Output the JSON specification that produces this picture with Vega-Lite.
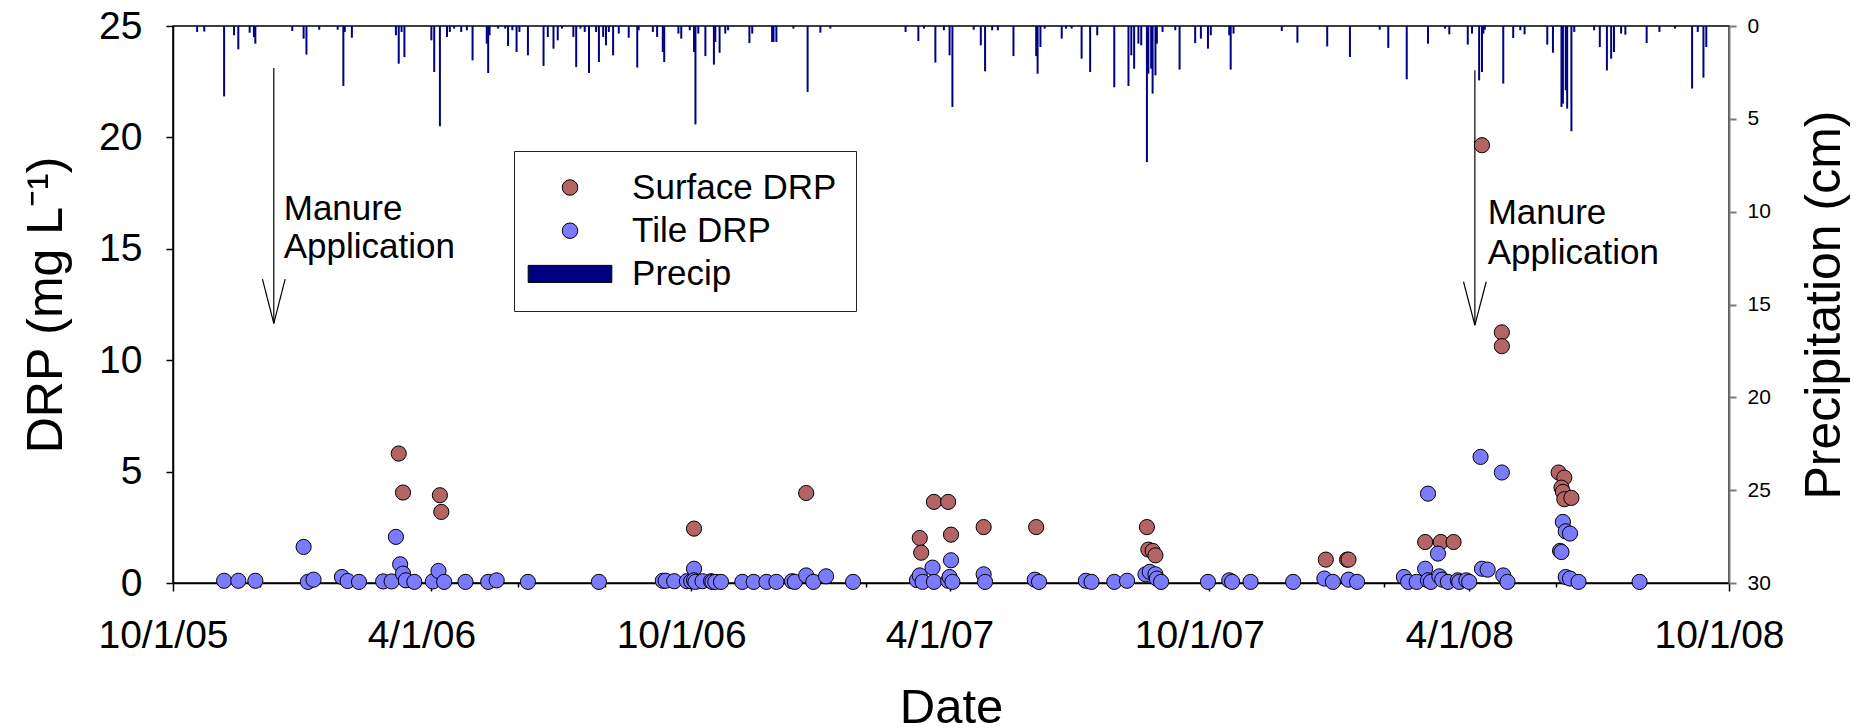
{
  "$schema": "https://vega.github.io/schema/vega-lite/v6.json",
  "width": 1556,
  "height": 557,
  "autosize": {"type": "none"},
  "padding": {"left": 173, "top": 26, "right": 130, "bottom": 145},
  "background": "white",
  "config": {
    "font": "Liberation Sans",
    "view": {"stroke": "black", "strokeWidth": 1.5},
    "axis": {"grid": false, "labelFont": "Liberation Sans", "titleFont": "Liberation Sans", "titleFontWeight": "normal", "labelColor": "black", "titleColor": "black"},
    "legend": {
      "orient": "none", "legendX": 341, "legendY": 125, "padding": 19,
      "symbolOffset": 19.5, "labelOffset": 44.6, "rowPadding": 7.2,
      "labelFontSize": 35, "labelFont": "Liberation Sans", "labelColor": "black", "labelLimit": 400,
      "symbolSize": 230, "symbolStrokeColor": "black", "symbolStrokeWidth": 1, "symbolOpacity": 1,
      "strokeColor": "#222222", "strokeWidth": 1
    }
  },
  "datasets": {
    "precip": [
      {"date": "2005-10-18", "precip": 0.32}, {"date": "2005-10-23", "precip": 0.3}, {"date": "2005-11-06", "precip": 3.79},
      {"date": "2005-11-13", "precip": 0.5}, {"date": "2005-11-16", "precip": 1.26}, {"date": "2005-11-24", "precip": 0.36},
      {"date": "2005-11-27", "precip": 0.6}, {"date": "2005-11-28", "precip": 0.95}, {"date": "2005-12-24", "precip": 0.27},
      {"date": "2006-01-01", "precip": 0.68}, {"date": "2006-01-03", "precip": 1.54}, {"date": "2006-01-12", "precip": 0.2},
      {"date": "2006-01-25", "precip": 0.2}, {"date": "2006-01-29", "precip": 3.23}, {"date": "2006-01-30", "precip": 0.32},
      {"date": "2006-02-04", "precip": 0.63}, {"date": "2006-03-07", "precip": 0.5}, {"date": "2006-03-09", "precip": 2.03},
      {"date": "2006-03-11", "precip": 0.32}, {"date": "2006-03-13", "precip": 1.67}, {"date": "2006-04-01", "precip": 0.77},
      {"date": "2006-04-03", "precip": 2.48}, {"date": "2006-04-07", "precip": 5.4}, {"date": "2006-04-12", "precip": 0.59},
      {"date": "2006-04-14", "precip": 0.32}, {"date": "2006-04-17", "precip": 0.14}, {"date": "2006-04-22", "precip": 0.32},
      {"date": "2006-04-26", "precip": 0.23}, {"date": "2006-04-30", "precip": 1.85}, {"date": "2006-05-10", "precip": 0.95},
      {"date": "2006-05-11", "precip": 2.53}, {"date": "2006-05-12", "precip": 0.5}, {"date": "2006-05-18", "precip": 0.14},
      {"date": "2006-05-23", "precip": 0.14}, {"date": "2006-05-25", "precip": 1.08}, {"date": "2006-05-28", "precip": 0.23},
      {"date": "2006-05-31", "precip": 1.4}, {"date": "2006-06-02", "precip": 0.32}, {"date": "2006-06-08", "precip": 1.58},
      {"date": "2006-06-19", "precip": 2.15}, {"date": "2006-06-22", "precip": 0.59}, {"date": "2006-06-26", "precip": 1.22},
      {"date": "2006-06-29", "precip": 0.77}, {"date": "2006-07-02", "precip": 0.14}, {"date": "2006-07-10", "precip": 0.59},
      {"date": "2006-07-12", "precip": 2.21}, {"date": "2006-07-15", "precip": 0.14}, {"date": "2006-07-18", "precip": 0.32},
      {"date": "2006-07-21", "precip": 2.53}, {"date": "2006-07-26", "precip": 0.32}, {"date": "2006-07-28", "precip": 1.94},
      {"date": "2006-07-31", "precip": 0.59}, {"date": "2006-08-02", "precip": 1.04}, {"date": "2006-08-04", "precip": 0.32},
      {"date": "2006-08-07", "precip": 1.58}, {"date": "2006-08-11", "precip": 0.41}, {"date": "2006-08-18", "precip": 0.63},
      {"date": "2006-08-24", "precip": 2.24}, {"date": "2006-08-25", "precip": 0.23}, {"date": "2006-09-04", "precip": 0.32},
      {"date": "2006-09-07", "precip": 0.59}, {"date": "2006-09-11", "precip": 1.4}, {"date": "2006-09-12", "precip": 1.94},
      {"date": "2006-09-22", "precip": 0.41}, {"date": "2006-09-24", "precip": 0.68}, {"date": "2006-09-30", "precip": 0.23},
      {"date": "2006-10-03", "precip": 1.4}, {"date": "2006-10-04", "precip": 5.3}, {"date": "2006-10-06", "precip": 0.41},
      {"date": "2006-10-11", "precip": 1.62}, {"date": "2006-10-17", "precip": 2.08}, {"date": "2006-10-18", "precip": 0.86},
      {"date": "2006-10-21", "precip": 1.44}, {"date": "2006-10-25", "precip": 0.41}, {"date": "2006-10-27", "precip": 0.23},
      {"date": "2006-11-11", "precip": 0.92}, {"date": "2006-11-13", "precip": 0.41}, {"date": "2006-11-27", "precip": 0.86},
      {"date": "2006-11-28", "precip": 0.86}, {"date": "2006-11-30", "precip": 0.86}, {"date": "2006-12-12", "precip": 0.14},
      {"date": "2006-12-22", "precip": 3.55}, {"date": "2006-12-31", "precip": 0.36}, {"date": "2007-01-07", "precip": 0.14},
      {"date": "2007-03-01", "precip": 0.32}, {"date": "2007-03-10", "precip": 0.81}, {"date": "2007-03-14", "precip": 0.14},
      {"date": "2007-03-22", "precip": 1.97}, {"date": "2007-03-28", "precip": 0.23}, {"date": "2007-04-01", "precip": 1.58},
      {"date": "2007-04-03", "precip": 4.36}, {"date": "2007-04-18", "precip": 0.2}, {"date": "2007-04-23", "precip": 1.04},
      {"date": "2007-04-26", "precip": 2.44}, {"date": "2007-05-01", "precip": 0.23}, {"date": "2007-05-05", "precip": 0.23},
      {"date": "2007-05-16", "precip": 1.62}, {"date": "2007-06-01", "precip": 1.62}, {"date": "2007-06-02", "precip": 2.57},
      {"date": "2007-06-04", "precip": 1.13}, {"date": "2007-06-07", "precip": 0.14}, {"date": "2007-06-19", "precip": 0.68},
      {"date": "2007-06-22", "precip": 0.14}, {"date": "2007-06-26", "precip": 0.14}, {"date": "2007-07-03", "precip": 1.76},
      {"date": "2007-07-09", "precip": 2.48}, {"date": "2007-07-14", "precip": 0.5}, {"date": "2007-07-26", "precip": 3.3},
      {"date": "2007-08-05", "precip": 3.23}, {"date": "2007-08-07", "precip": 1.58}, {"date": "2007-08-09", "precip": 2.3},
      {"date": "2007-08-12", "precip": 0.95}, {"date": "2007-08-14", "precip": 1.04}, {"date": "2007-08-18", "precip": 7.33},
      {"date": "2007-08-19", "precip": 2.57}, {"date": "2007-08-21", "precip": 2.3}, {"date": "2007-08-22", "precip": 3.64},
      {"date": "2007-08-24", "precip": 2.66}, {"date": "2007-08-25", "precip": 0.95}, {"date": "2007-08-29", "precip": 0.32},
      {"date": "2007-09-07", "precip": 0.23}, {"date": "2007-09-10", "precip": 2.35}, {"date": "2007-09-21", "precip": 0.92},
      {"date": "2007-09-25", "precip": 0.68}, {"date": "2007-09-30", "precip": 1.22}, {"date": "2007-10-02", "precip": 0.5},
      {"date": "2007-10-15", "precip": 0.5}, {"date": "2007-10-16", "precip": 2.35}, {"date": "2007-10-18", "precip": 0.41},
      {"date": "2007-11-21", "precip": 0.27}, {"date": "2007-12-02", "precip": 0.9}, {"date": "2007-12-23", "precip": 1.1},
      {"date": "2008-01-08", "precip": 1.67}, {"date": "2008-01-29", "precip": 0.2}, {"date": "2008-02-04", "precip": 1.18},
      {"date": "2008-02-17", "precip": 2.87}, {"date": "2008-03-03", "precip": 0.95}, {"date": "2008-03-15", "precip": 0.14},
      {"date": "2008-03-18", "precip": 0.45}, {"date": "2008-03-31", "precip": 1.0}, {"date": "2008-04-03", "precip": 0.41},
      {"date": "2008-04-08", "precip": 2.93}, {"date": "2008-04-10", "precip": 2.48}, {"date": "2008-04-11", "precip": 0.41},
      {"date": "2008-04-12", "precip": 0.2}, {"date": "2008-04-25", "precip": 3.1}, {"date": "2008-05-02", "precip": 0.65},
      {"date": "2008-05-07", "precip": 0.23}, {"date": "2008-05-10", "precip": 0.45}, {"date": "2008-05-26", "precip": 1.0},
      {"date": "2008-05-30", "precip": 1.44}, {"date": "2008-06-05", "precip": 4.36}, {"date": "2008-06-06", "precip": 4.18},
      {"date": "2008-06-08", "precip": 3.46}, {"date": "2008-06-09", "precip": 4.45}, {"date": "2008-06-12", "precip": 5.67},
      {"date": "2008-06-14", "precip": 0.32}, {"date": "2008-06-28", "precip": 0.23}, {"date": "2008-07-02", "precip": 1.13},
      {"date": "2008-07-07", "precip": 2.39}, {"date": "2008-07-10", "precip": 1.76}, {"date": "2008-07-12", "precip": 1.4},
      {"date": "2008-07-17", "precip": 0.41}, {"date": "2008-07-20", "precip": 0.47}, {"date": "2008-08-04", "precip": 0.92},
      {"date": "2008-08-13", "precip": 0.32}, {"date": "2008-08-24", "precip": 0.14}, {"date": "2008-09-05", "precip": 3.37},
      {"date": "2008-09-09", "precip": 0.32}, {"date": "2008-09-13", "precip": 2.78}, {"date": "2008-09-15", "precip": 1.13}
    ],
    "drp": [
      {"date": "2006-03-09", "drp": 5.81, "series": "Surface DRP"}, {"date": "2006-03-12", "drp": 4.06, "series": "Surface DRP"},
      {"date": "2006-04-07", "drp": 3.94, "series": "Surface DRP"}, {"date": "2006-04-08", "drp": 3.19, "series": "Surface DRP"},
      {"date": "2006-10-03", "drp": 2.44, "series": "Surface DRP"}, {"date": "2006-12-21", "drp": 4.04, "series": "Surface DRP"},
      {"date": "2007-03-11", "drp": 2.02, "series": "Surface DRP"}, {"date": "2007-03-12", "drp": 1.36, "series": "Surface DRP"},
      {"date": "2007-03-21", "drp": 3.64, "series": "Surface DRP"}, {"date": "2007-03-31", "drp": 3.64, "series": "Surface DRP"},
      {"date": "2007-04-02", "drp": 2.17, "series": "Surface DRP"}, {"date": "2007-04-25", "drp": 2.51, "series": "Surface DRP"},
      {"date": "2007-06-01", "drp": 2.51, "series": "Surface DRP"}, {"date": "2007-08-18", "drp": 2.51, "series": "Surface DRP"},
      {"date": "2007-08-19", "drp": 1.5, "series": "Surface DRP"}, {"date": "2007-08-22", "drp": 1.44, "series": "Surface DRP"},
      {"date": "2007-08-24", "drp": 1.24, "series": "Surface DRP"}, {"date": "2007-12-22", "drp": 1.05, "series": "Surface DRP"},
      {"date": "2008-01-06", "drp": 1.05, "series": "Surface DRP"}, {"date": "2008-01-07", "drp": 1.05, "series": "Surface DRP"},
      {"date": "2008-03-01", "drp": 1.84, "series": "Surface DRP"}, {"date": "2008-03-12", "drp": 1.84, "series": "Surface DRP"},
      {"date": "2008-03-21", "drp": 1.84, "series": "Surface DRP"}, {"date": "2008-04-10", "drp": 19.65, "series": "Surface DRP"},
      {"date": "2008-04-24", "drp": 11.25, "series": "Surface DRP"}, {"date": "2008-04-24", "drp": 10.63, "series": "Surface DRP"},
      {"date": "2008-06-03", "drp": 4.96, "series": "Surface DRP"}, {"date": "2008-06-07", "drp": 4.73, "series": "Surface DRP"},
      {"date": "2008-06-05", "drp": 4.28, "series": "Surface DRP"}, {"date": "2008-06-06", "drp": 4.09, "series": "Surface DRP"},
      {"date": "2008-06-07", "drp": 3.76, "series": "Surface DRP"}, {"date": "2008-06-12", "drp": 3.82, "series": "Surface DRP"},
      {"date": "2005-11-06", "drp": 0.1, "series": "Tile DRP"}, {"date": "2005-11-16", "drp": 0.1, "series": "Tile DRP"},
      {"date": "2005-11-28", "drp": 0.1, "series": "Tile DRP"}, {"date": "2006-01-01", "drp": 1.62, "series": "Tile DRP"},
      {"date": "2006-01-04", "drp": 0.05, "series": "Tile DRP"}, {"date": "2006-01-08", "drp": 0.15, "series": "Tile DRP"},
      {"date": "2006-01-28", "drp": 0.27, "series": "Tile DRP"}, {"date": "2006-02-01", "drp": 0.09, "series": "Tile DRP"},
      {"date": "2006-02-09", "drp": 0.05, "series": "Tile DRP"}, {"date": "2006-02-26", "drp": 0.07, "series": "Tile DRP"},
      {"date": "2006-03-04", "drp": 0.07, "series": "Tile DRP"}, {"date": "2006-03-07", "drp": 2.07, "series": "Tile DRP"},
      {"date": "2006-03-10", "drp": 0.84, "series": "Tile DRP"}, {"date": "2006-03-12", "drp": 0.42, "series": "Tile DRP"},
      {"date": "2006-03-14", "drp": 0.12, "series": "Tile DRP"}, {"date": "2006-03-20", "drp": 0.05, "series": "Tile DRP"},
      {"date": "2006-04-02", "drp": 0.07, "series": "Tile DRP"}, {"date": "2006-04-06", "drp": 0.54, "series": "Tile DRP"},
      {"date": "2006-04-10", "drp": 0.05, "series": "Tile DRP"}, {"date": "2006-04-25", "drp": 0.05, "series": "Tile DRP"},
      {"date": "2006-05-11", "drp": 0.05, "series": "Tile DRP"}, {"date": "2006-05-17", "drp": 0.12, "series": "Tile DRP"},
      {"date": "2006-06-08", "drp": 0.05, "series": "Tile DRP"}, {"date": "2006-07-28", "drp": 0.05, "series": "Tile DRP"},
      {"date": "2006-09-11", "drp": 0.1, "series": "Tile DRP"}, {"date": "2006-09-13", "drp": 0.1, "series": "Tile DRP"},
      {"date": "2006-09-19", "drp": 0.08, "series": "Tile DRP"}, {"date": "2006-09-28", "drp": 0.08, "series": "Tile DRP"},
      {"date": "2006-10-01", "drp": 0.08, "series": "Tile DRP"}, {"date": "2006-10-03", "drp": 0.64, "series": "Tile DRP"},
      {"date": "2006-10-03", "drp": 0.12, "series": "Tile DRP"}, {"date": "2006-10-04", "drp": 0.05, "series": "Tile DRP"},
      {"date": "2006-10-09", "drp": 0.08, "series": "Tile DRP"}, {"date": "2006-10-15", "drp": 0.08, "series": "Tile DRP"},
      {"date": "2006-10-16", "drp": 0.05, "series": "Tile DRP"}, {"date": "2006-10-18", "drp": 0.05, "series": "Tile DRP"},
      {"date": "2006-10-22", "drp": 0.05, "series": "Tile DRP"}, {"date": "2006-11-06", "drp": 0.05, "series": "Tile DRP"},
      {"date": "2006-11-14", "drp": 0.05, "series": "Tile DRP"}, {"date": "2006-11-23", "drp": 0.05, "series": "Tile DRP"},
      {"date": "2006-11-30", "drp": 0.05, "series": "Tile DRP"}, {"date": "2006-12-11", "drp": 0.08, "series": "Tile DRP"},
      {"date": "2006-12-13", "drp": 0.05, "series": "Tile DRP"}, {"date": "2006-12-21", "drp": 0.34, "series": "Tile DRP"},
      {"date": "2006-12-26", "drp": 0.05, "series": "Tile DRP"}, {"date": "2007-01-04", "drp": 0.3, "series": "Tile DRP"},
      {"date": "2007-01-23", "drp": 0.05, "series": "Tile DRP"}, {"date": "2007-03-09", "drp": 0.13, "series": "Tile DRP"},
      {"date": "2007-03-11", "drp": 0.34, "series": "Tile DRP"}, {"date": "2007-03-13", "drp": 0.05, "series": "Tile DRP"},
      {"date": "2007-03-20", "drp": 0.69, "series": "Tile DRP"}, {"date": "2007-03-21", "drp": 0.05, "series": "Tile DRP"},
      {"date": "2007-03-31", "drp": 0.1, "series": "Tile DRP"}, {"date": "2007-04-01", "drp": 0.27, "series": "Tile DRP"},
      {"date": "2007-04-02", "drp": 1.02, "series": "Tile DRP"}, {"date": "2007-04-03", "drp": 0.05, "series": "Tile DRP"},
      {"date": "2007-04-25", "drp": 0.39, "series": "Tile DRP"}, {"date": "2007-04-26", "drp": 0.05, "series": "Tile DRP"},
      {"date": "2007-05-31", "drp": 0.15, "series": "Tile DRP"}, {"date": "2007-06-03", "drp": 0.05, "series": "Tile DRP"},
      {"date": "2007-07-06", "drp": 0.1, "series": "Tile DRP"}, {"date": "2007-07-10", "drp": 0.05, "series": "Tile DRP"},
      {"date": "2007-07-26", "drp": 0.05, "series": "Tile DRP"}, {"date": "2007-08-04", "drp": 0.1, "series": "Tile DRP"},
      {"date": "2007-08-17", "drp": 0.39, "series": "Tile DRP"}, {"date": "2007-08-20", "drp": 0.5, "series": "Tile DRP"},
      {"date": "2007-08-24", "drp": 0.39, "series": "Tile DRP"}, {"date": "2007-08-25", "drp": 0.2, "series": "Tile DRP"},
      {"date": "2007-08-28", "drp": 0.05, "series": "Tile DRP"}, {"date": "2007-09-30", "drp": 0.05, "series": "Tile DRP"},
      {"date": "2007-10-15", "drp": 0.12, "series": "Tile DRP"}, {"date": "2007-10-17", "drp": 0.05, "series": "Tile DRP"},
      {"date": "2007-10-30", "drp": 0.05, "series": "Tile DRP"}, {"date": "2007-11-29", "drp": 0.05, "series": "Tile DRP"},
      {"date": "2007-12-21", "drp": 0.2, "series": "Tile DRP"}, {"date": "2007-12-27", "drp": 0.05, "series": "Tile DRP"},
      {"date": "2008-01-07", "drp": 0.15, "series": "Tile DRP"}, {"date": "2008-01-13", "drp": 0.05, "series": "Tile DRP"},
      {"date": "2008-02-15", "drp": 0.27, "series": "Tile DRP"}, {"date": "2008-02-18", "drp": 0.05, "series": "Tile DRP"},
      {"date": "2008-02-24", "drp": 0.05, "series": "Tile DRP"}, {"date": "2008-03-01", "drp": 0.64, "series": "Tile DRP"},
      {"date": "2008-03-03", "drp": 4.01, "series": "Tile DRP"}, {"date": "2008-03-03", "drp": 0.12, "series": "Tile DRP"},
      {"date": "2008-03-05", "drp": 0.05, "series": "Tile DRP"}, {"date": "2008-03-10", "drp": 1.32, "series": "Tile DRP"},
      {"date": "2008-03-11", "drp": 0.3, "series": "Tile DRP"}, {"date": "2008-03-13", "drp": 0.15, "series": "Tile DRP"},
      {"date": "2008-03-17", "drp": 0.05, "series": "Tile DRP"}, {"date": "2008-03-24", "drp": 0.12, "series": "Tile DRP"},
      {"date": "2008-03-25", "drp": 0.05, "series": "Tile DRP"}, {"date": "2008-03-30", "drp": 0.12, "series": "Tile DRP"},
      {"date": "2008-04-01", "drp": 0.05, "series": "Tile DRP"}, {"date": "2008-04-09", "drp": 5.66, "series": "Tile DRP"},
      {"date": "2008-04-10", "drp": 0.64, "series": "Tile DRP"}, {"date": "2008-04-14", "drp": 0.6, "series": "Tile DRP"},
      {"date": "2008-04-24", "drp": 4.96, "series": "Tile DRP"}, {"date": "2008-04-25", "drp": 0.34, "series": "Tile DRP"},
      {"date": "2008-04-28", "drp": 0.05, "series": "Tile DRP"}, {"date": "2008-06-04", "drp": 1.44, "series": "Tile DRP"},
      {"date": "2008-06-05", "drp": 1.39, "series": "Tile DRP"}, {"date": "2008-06-06", "drp": 2.74, "series": "Tile DRP"},
      {"date": "2008-06-08", "drp": 2.32, "series": "Tile DRP"}, {"date": "2008-06-11", "drp": 2.22, "series": "Tile DRP"},
      {"date": "2008-06-08", "drp": 0.27, "series": "Tile DRP"}, {"date": "2008-06-11", "drp": 0.2, "series": "Tile DRP"},
      {"date": "2008-06-17", "drp": 0.05, "series": "Tile DRP"}, {"date": "2008-07-30", "drp": 0.05, "series": "Tile DRP"}
    ],
    "arrows": [
      {"date": "2005-12-11", "drp": 23.12, "date2": "2005-12-11", "drp2": 11.65},
      {"date": "2005-12-03", "drp": 13.64, "date2": "2005-12-11", "drp2": 11.65},
      {"date": "2005-12-19", "drp": 13.64, "date2": "2005-12-11", "drp2": 11.65},
      {"date": "2008-04-05", "drp": 23.01, "date2": "2008-04-05", "drp2": 11.57},
      {"date": "2008-03-28", "drp": 13.52, "date2": "2008-04-05", "drp2": 11.57},
      {"date": "2008-04-13", "drp": 13.52, "date2": "2008-04-05", "drp2": 11.57}
    ],
    "notes": [
      {"date": "2005-12-18", "drp": 16.29, "label": "Manure"},
      {"date": "2005-12-18", "drp": 14.57, "label": "Application"},
      {"date": "2008-04-14", "drp": 16.11, "label": "Manure"},
      {"date": "2008-04-14", "drp": 14.34, "label": "Application"}
    ]
  },
  "encoding": {
    "x": {
      "field": "date", "type": "temporal",
      "scale": {"type": "utc", "domain": [{"year": 2005, "month": 10, "date": 1, "utc": true}, {"year": 2008, "month": 10, "date": 1, "utc": true}]},
      "axis": {
        "title": "Date", "titleFontSize": 49, "titlePadding": 28,
        "values": [
          {"year": 2005, "month": 10, "date": 1, "utc": true}, {"year": 2005, "month": 12, "date": 1, "utc": true},
          {"year": 2006, "month": 2, "date": 1, "utc": true}, {"year": 2006, "month": 4, "date": 1, "utc": true},
          {"year": 2006, "month": 6, "date": 1, "utc": true}, {"year": 2006, "month": 8, "date": 1, "utc": true},
          {"year": 2006, "month": 10, "date": 1, "utc": true}, {"year": 2006, "month": 12, "date": 1, "utc": true},
          {"year": 2007, "month": 2, "date": 1, "utc": true}, {"year": 2007, "month": 4, "date": 1, "utc": true},
          {"year": 2007, "month": 6, "date": 1, "utc": true}, {"year": 2007, "month": 8, "date": 1, "utc": true},
          {"year": 2007, "month": 10, "date": 1, "utc": true}, {"year": 2007, "month": 12, "date": 1, "utc": true},
          {"year": 2008, "month": 2, "date": 1, "utc": true}, {"year": 2008, "month": 4, "date": 1, "utc": true},
          {"year": 2008, "month": 6, "date": 1, "utc": true}, {"year": 2008, "month": 8, "date": 1, "utc": true},
          {"year": 2008, "month": 10, "date": 1, "utc": true}
        ],
        "labelExpr": "(utcmonth(datum.value) == 3 || utcmonth(datum.value) == 9) ? utcFormat(datum.value, '%-m/%-d/%y') : ''",
        "labelFontSize": 39, "labelPadding": 25, "labelOffset": -10, "labelFlush": false, "labelOverlap": false,
        "tickSize": {"condition": {"test": "utcmonth(datum.value) == 3 || utcmonth(datum.value) == 9", "value": 8}, "value": 4},
        "tickColor": "black", "tickWidth": 1.5, "domainColor": "black", "domainWidth": 1.5
      }
    }
  },
  "layer": [
    {
      "data": {"name": "precip"},
      "mark": {"type": "rule", "color": "#000080", "strokeWidth": 2},
      "encoding": {
        "y": {
          "field": "precip", "type": "quantitative",
          "scale": {"domain": [0, 30], "reverse": true, "nice": false},
          "axis": {
            "orient": "right", "title": "Precipitation (cm)", "values": [0, 5, 10, 15, 20, 25, 30],
            "titleFontSize": 50, "titleAngle": -90, "titleBaseline": "top", "titlePadding": 29,
            "labelFontSize": 21, "labelPadding": 11, "tickSize": 7, "tickColor": "#7a7a7a", "tickWidth": 2,
            "domainColor": "#7a7a7a", "domainWidth": 2, "labelFlush": false
          }
        },
        "y2": {"datum": 0}
      }
    },
    {
      "encoding": {
        "y": {
          "field": "drp", "type": "quantitative",
          "scale": {"domain": [0, 25], "nice": false},
          "axis": {
            "orient": "left", "title": "DRP (mg L⁻¹)", "values": [0, 5, 10, 15, 20, 25],
            "titleFontSize": 50, "titlePadding": 27,
            "labelFontSize": 39, "labelPadding": 24, "tickSize": 7, "tickColor": "black", "tickWidth": 1.5,
            "domainColor": "black", "domainWidth": 1.5, "labelFlush": false
          }
        }
      },
      "layer": [
        {
          "data": {"name": "arrows"},
          "mark": {"type": "rule", "color": "black", "strokeWidth": 1.2},
          "encoding": {"x2": {"field": "date2"}, "y2": {"field": "drp2"}}
        },
        {
          "data": {"name": "notes"},
          "mark": {"type": "text", "align": "left", "baseline": "alphabetic", "fontSize": 35, "color": "black", "font": "Liberation Sans"},
          "encoding": {"text": {"field": "label"}}
        },
        {
          "data": {"name": "drp"},
          "mark": {"type": "point", "filled": true, "size": 230, "stroke": "black", "strokeWidth": 1, "opacity": 1},
          "encoding": {
            "color": {
              "field": "series", "type": "nominal",
              "scale": {"domain": ["Surface DRP", "Tile DRP", "Precip"], "range": ["#b46464", "#7b7bff", "#000080"]},
              "legend": {"title": null, "symbolStrokeColor": "black", "symbolStrokeWidth": 1, "symbolSize": 230,
                "encode": {"symbols": {"update": {"stroke": {"value": "black"}, "strokeWidth": {"value": 1}, "size": {"value": 240}}}}}
            },
            "shape": {
              "field": "series", "type": "nominal",
              "scale": {"domain": ["Surface DRP", "Tile DRP", "Precip"], "range": ["circle", "circle", "M-5.4,-1.1H5.4V1.1H-5.4Z"]},
              "legend": {"title": null, "symbolStrokeColor": "black", "symbolStrokeWidth": 1, "symbolSize": 230,
                "encode": {"symbols": {"update": {"stroke": {"value": "black"}, "strokeWidth": {"value": 1}, "size": {"value": 240}}}}}
            }
          }
        }
      ]
    }
  ],
  "resolve": {"scale": {"y": "independent"}, "axis": {"y": "independent"}}
}
